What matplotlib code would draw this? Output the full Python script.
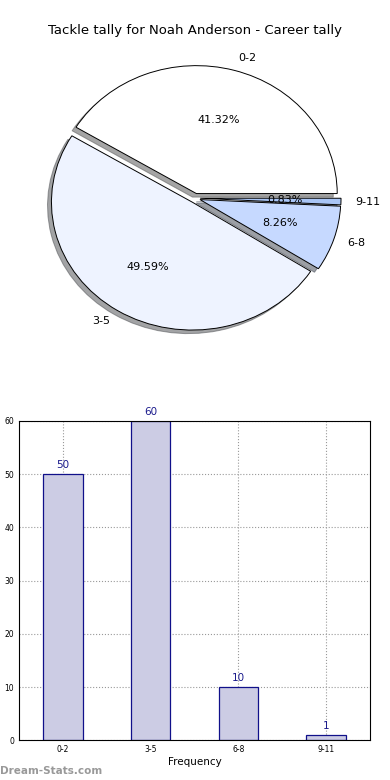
import matplotlib
matplotlib.use('Agg')
import matplotlib.pyplot as plt

categories = ['0-2', '3-5', '6-8', '9-11']
counts = [50, 60, 10, 1]
pie_colors = ['#ffffff', '#eef3ff', '#c6d9ff', '#a9c5f5']
title = 'Tackle tally for Noah Anderson - Career tally'


def draw_pie(fig):
    # old-style pie: axes not forced to equal aspect, so it comes out a bit oval
    ax = fig.add_axes([0.0487, 0.541, 0.9026, 0.410])
    ax.pie(counts, labels=categories, colors=pie_colors, autopct='%.2f%%',
           explode=[0.037] * len(counts), shadow=True, startangle=0,
           pctdistance=0.6, labeldistance=1.1,
           wedgeprops={'edgecolor': 'black', 'linewidth': 0.7},
           textprops={'fontsize': 8})
    ax.set_xlim(-1.25, 1.25)
    ax.set_ylim(-1.25, 1.25)
    ax.set_aspect('auto')
    fig.text(0.5, 0.961, title, ha='center', va='center', fontsize=9.5)


def draw_bars(fig):
    ax = fig.add_axes([0.0487, 0.051, 0.9003, 0.4093])
    x = range(len(categories))
    bars = ax.bar(x, counts, width=0.45, color='#ccccE4', edgecolor='#10108a',
                  linewidth=0.9, zorder=2)
    for b, v in zip(bars, counts):
        ax.text(b.get_x() + b.get_width() / 2, v + 0.8, str(v), ha='center',
                va='bottom', fontsize=7.5, color='#1a1a8c')
    ax.set_xlim(-0.5, 3.5)
    ax.set_ylim(0, 60)
    ax.set_xticks(list(x))
    ax.set_xticklabels(categories)
    ax.set_yticks(range(0, 61, 10))
    ax.tick_params(labelsize=5.5, length=0)
    ax.grid(True, linestyle=':', color='#999999', linewidth=0.8, zorder=0)
    ax.set_axisbelow(True)
    ax.set_xlabel('Frequency', fontsize=7.5, labelpad=2)
    fig.text(0.0, 0.012, 'Dream-Stats.com', fontsize=7.5, color='#999999',
             fontweight='bold', ha='left', va='center')


def main():
    fig = plt.figure(figsize=(3.9, 7.8), dpi=100)
    draw_pie(fig)
    draw_bars(fig)
    fig.savefig('out.png', dpi=100)
    plt.close(fig)


if __name__ == '__main__':
    main()
